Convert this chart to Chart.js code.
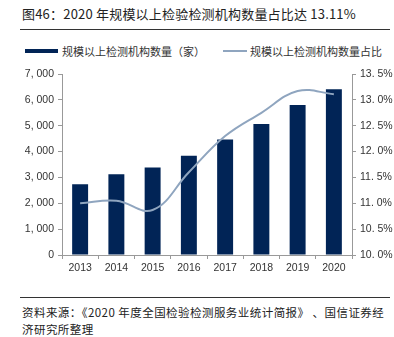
<!DOCTYPE html>
<html>
<head>
<meta charset="utf-8">
<script src="https://cdn.jsdelivr.net/npm/chart.js@4"></script>
<style>
  body { margin: 0; background: #fff; width: 394px; height: 337px; position: relative; overflow: hidden;
         font-family: "Noto Sans CJK SC", "Liberation Sans", sans-serif; color: #222; }
  #title { position: absolute; left: 22px; top: 4px; font-size: 13px; letter-spacing: 0.2px; white-space: nowrap; }
  .rule { position: absolute; left: 20px; width: 370px; height: 1px; background: #333; }
  #legend { position: absolute; top: 41px; left: 25px; font-size: 11px; white-space: nowrap; color: #333; }
  #legend span { display: inline-block; vertical-align: middle; }
  .swBar { width: 33px; height: 4px; background: #012456; margin-right: 4px; }
  .swLine { width: 24px; height: 2px; background: #8fa5bf; margin-left: 18px; margin-right: 3px; }
  #wrap { position: absolute; left: 0; top: 60px; width: 394px; height: 220px; }
  #source { position: absolute; left: 22px; top: 304px; width: 372px; font-size: 11.5px; letter-spacing: 0.45px; line-height: 17px; color: #222; white-space: nowrap; }
</style>
</head>
<body>
<div id="title">图46：2020 年规模以上检验检测机构数量占比达 13.11%</div>
<div class="rule" style="top:29px"></div>
<div id="legend"><span class="swBar"></span><span>规模以上检测机构数量（家）</span><span class="swLine"></span><span>规模以上检测机构数量占比</span></div>
<div id="wrap"><canvas id="c" width="394" height="220"></canvas></div>
<div class="rule" style="top:297px"></div>
<div id="source">资料来源：《2020 年度全国检验检测服务业统计简报》 、国信证券经<br>济研究所整理</div>
<script>
const years = ['2013', '2014', '2015', '2016', '2017', '2018', '2019', '2020'];
const orgCount = [2734, 3120, 3380, 3840, 4470, 5070, 5800, 6410];
const orgShare = [11.0, 11.05, 10.87, 11.6, 12.3, 12.75, 13.17, 13.11];

const axisColor = '#999';
const tickFont = { family: 'Liberation Sans', size: 10.5 };

function fmtCount(v) {
  return String(v).replace(/\B(?=(\d{3})+(?!\d))/g, ', ');
}
function fmtShare(v) {
  return v.toFixed(1).replace('.', '. ') + '%';
}

const chart = new Chart(document.getElementById('c').getContext('2d'), {
  data: {
    labels: years,
    datasets: [
      {
        type: 'line',
        label: '规模以上检测机构数量占比',
        data: orgShare,
        yAxisID: 'y1',
        borderColor: '#8fa5bf',
        borderWidth: 2,
        pointRadius: 0,
        tension: 0.4,
        order: 0
      },
      {
        type: 'bar',
        label: '规模以上检测机构数量（家）',
        data: orgCount,
        yAxisID: 'y',
        backgroundColor: '#012456',
        categoryPercentage: 1,
        barPercentage: 0.44,
        order: 1
      }
    ]
  },
  options: {
    responsive: false,
    animation: false,
    layout: { padding: { top: 14, bottom: 0, left: 0, right: 0 } },
    plugins: { legend: { display: false }, tooltip: { enabled: false } },
    scales: {
      x: {
        grid: { drawOnChartArea: false, tickLength: 4, color: axisColor, offset: true },
        border: { color: axisColor },
        ticks: { color: '#333', font: tickFont, padding: 3 },
        afterFit: s => { s.height = 25; }
      },
      y: {
        position: 'left',
        min: 0,
        max: 7000,
        grid: { drawOnChartArea: false, tickLength: 4, color: axisColor },
        border: { color: axisColor },
        ticks: { stepSize: 1000, color: '#333', font: tickFont, padding: 4, callback: v => fmtCount(v) },
        afterFit: s => { s.width = 62; }
      },
      y1: {
        position: 'right',
        min: 10,
        max: 13.5,
        grid: { drawOnChartArea: false, tickLength: 4, color: axisColor },
        border: { color: axisColor },
        ticks: { stepSize: 0.5, color: '#333', font: tickFont, padding: 4, callback: v => fmtShare(v) },
        afterFit: s => { s.width = 42; }
      }
    }
  }
});
</script>
</body>
</html>
